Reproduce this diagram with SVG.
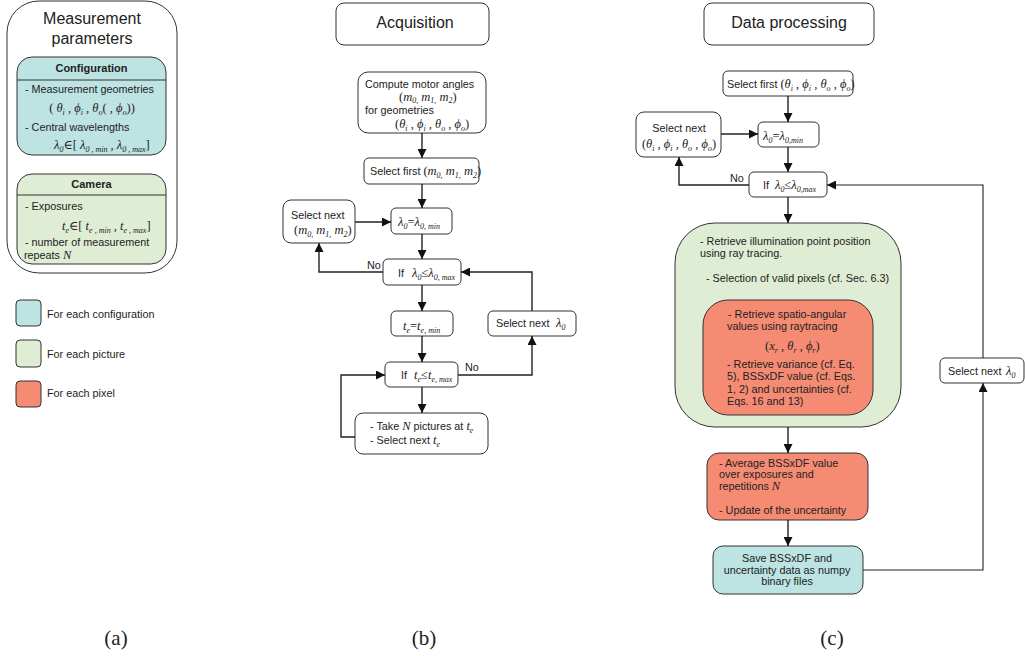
<svg xmlns="http://www.w3.org/2000/svg" width="1025" height="656" viewBox="0 0 1025 656">
<defs>
<style>
.t{font-family:"Liberation Sans",Arial,sans-serif;font-size:10.8px;fill:#222}
.tb{font-family:"Liberation Sans",Arial,sans-serif;font-size:11px;font-weight:bold;fill:#222}
.h{font-family:"Liberation Sans",Arial,sans-serif;font-size:16px;fill:#222}
.m{font-family:"Liberation Serif","DejaVu Serif","Times New Roman",serif;font-style:italic;font-size:12.5px;fill:#222}
.s{font-size:8px}
.n{font-style:normal}
.lab{font-family:"Liberation Serif","Times New Roman",serif;font-size:21px;fill:#222}
.box{fill:#fff;stroke:#333;stroke-width:1}
.cy{fill:#bde3e3;stroke:#333;stroke-width:1}
.gr{fill:#dfedd4;stroke:#333;stroke-width:1}
.rd{fill:#f58b73;stroke:#333;stroke-width:1}
.c{fill:none;stroke:#222;stroke-width:1.4}
.c2{fill:none;stroke:#222;stroke-width:1.1}
</style>
<marker id="ar" viewBox="0 0 10 10" refX="10" refY="5" markerWidth="9" markerHeight="9" markerUnits="userSpaceOnUse" orient="auto">
<path d="M0,0 L10,5 L0,10 z" fill="#111"/>
</marker>
</defs>
<rect width="1025" height="656" fill="#fff"/>

<!-- Panel (a) -->
<g id="params">
<rect x="7" y="1" width="170" height="272" rx="32" class="box"/>
<text x="92" y="24" class="h" text-anchor="middle">Measurement</text>
<text x="92" y="44" class="h" text-anchor="middle">parameters</text>
</g>
<g id="configuration">
<rect x="17" y="57" width="149" height="98" rx="15" class="cy"/>
<line x1="17" y1="80" x2="166" y2="80" stroke="#333" stroke-width="1"/>
<text x="91.5" y="72" class="tb" text-anchor="middle">Configuration</text>
<text x="25" y="93" class="t">- Measurement geometries</text>
<text x="92" y="112" class="m" text-anchor="middle"><tspan class="n">(</tspan> θ<tspan class="s" baseline-shift="-3">i</tspan> , ϕ<tspan class="s" baseline-shift="-3">i</tspan> , θ<tspan class="s" baseline-shift="-3">o</tspan><tspan class="n">(</tspan> , ϕ<tspan class="s" baseline-shift="-3">o</tspan><tspan class="n">))</tspan></text>
<text x="25" y="131" class="t">- Central wavelengths</text>
<text x="54" y="149" class="m">λ<tspan class="s" baseline-shift="-3">0</tspan><tspan class="n">∈[</tspan> λ<tspan class="s" baseline-shift="-3">0 , min</tspan> , λ<tspan class="s" baseline-shift="-3">0 , max</tspan><tspan class="n">]</tspan></text>
</g>
<g id="camera">
<rect x="17" y="174" width="149" height="90" rx="15" class="gr"/>
<line x1="17" y1="195" x2="166" y2="195" stroke="#333" stroke-width="1"/>
<text x="91.5" y="188" class="tb" text-anchor="middle">Camera</text>
<text x="25" y="210" class="t">- Exposures</text>
<text x="62" y="230" class="m">t<tspan class="s" baseline-shift="-3">e</tspan><tspan class="n">∈[</tspan> t<tspan class="s" baseline-shift="-3">e , min</tspan> , t<tspan class="s" baseline-shift="-3">e , max</tspan><tspan class="n">]</tspan></text>
<text x="25" y="246" class="t">- number of measurement</text>
<text x="24" y="259" class="t">repeats <tspan class="m" font-size="13">N</tspan></text>
</g>

<!-- Legend -->
<g id="legend">
<rect x="16" y="300" width="25" height="26" rx="4" class="cy"/>
<text x="47" y="318" class="t">For each configuration</text>
<rect x="16" y="340" width="25" height="27" rx="4" class="gr"/>
<text x="47" y="358" class="t">For each picture</text>
<rect x="16" y="381" width="25" height="26" rx="4" class="rd"/>
<text x="47" y="397" class="t">For each pixel</text>
</g>

<!-- Panel (b) -->
<g id="acq-title">
<rect x="336" y="3" width="153" height="42" rx="8" class="box"/>
<text x="415" y="28" class="h" text-anchor="middle">Acquisition</text>
</g>
<g id="b-compute">
<rect x="358" y="72" width="128" height="61" rx="10" class="box"/>
<text x="365" y="88" class="t">Compute motor angles</text>
<text x="399" y="101" class="m"><tspan class="n">(</tspan>m<tspan class="s" baseline-shift="-2">0,</tspan> m<tspan class="s" baseline-shift="-2">1,</tspan> m<tspan class="s" baseline-shift="-2">2</tspan><tspan class="n">)</tspan></text>
<text x="365" y="114" class="t">for geometries</text>
<text x="395" y="128" class="m"><tspan class="n">(</tspan>θ<tspan class="s" baseline-shift="-3">i</tspan> , ϕ<tspan class="s" baseline-shift="-3">i</tspan> , θ<tspan class="s" baseline-shift="-3">o</tspan> , ϕ<tspan class="s" baseline-shift="-3">o</tspan><tspan class="n">)</tspan></text>
</g>
<g id="b-selfirst">
<rect x="364" y="158" width="115" height="26" rx="5" class="box"/>
<text x="370" y="175" class="t">Select first <tspan class="m"><tspan class="n">(</tspan>m<tspan class="s" baseline-shift="-3">0,</tspan> m<tspan class="s" baseline-shift="-3">1,</tspan> m<tspan class="s" baseline-shift="-3">2</tspan><tspan class="n">)</tspan></tspan></text>
</g>
<g id="b-selnext-m">
<rect x="283" y="200" width="72" height="43" rx="8" class="box"/>
<text x="291" y="219" class="t">Select next</text>
<text x="294" y="234" class="m"><tspan class="n">(</tspan>m<tspan class="s" baseline-shift="-3">0,</tspan> m<tspan class="s" baseline-shift="-3">1,</tspan> m<tspan class="s" baseline-shift="-3">2</tspan><tspan class="n">)</tspan></text>
</g>
<g id="b-lmin">
<rect x="391" y="208" width="61" height="26" rx="5" class="box"/>
<text x="398" y="226" class="m">λ<tspan class="s" baseline-shift="-3">0</tspan><tspan class="n">=</tspan>λ<tspan class="s" baseline-shift="-3">0, min</tspan></text>
</g>
<g id="b-iflmax">
<rect x="383" y="259" width="78" height="26" rx="5" class="box"/>
<text x="398" y="277" class="t">If</text>
<text x="412" y="277" class="m">λ<tspan class="s" baseline-shift="-3">0</tspan><tspan class="n">≤</tspan>λ<tspan class="s" baseline-shift="-3">0, max</tspan></text>
</g>
<g id="b-temin">
<rect x="391" y="311" width="62" height="25" rx="5" class="box"/>
<text x="403" y="330" class="m">t<tspan class="s" baseline-shift="-3">e</tspan><tspan class="n">=</tspan>t<tspan class="s" baseline-shift="-3">e, min</tspan></text>
</g>
<g id="b-selnext-l">
<rect x="488" y="311" width="88" height="25" rx="5" class="box"/>
<text x="496" y="327" class="t">Select next</text>
<text x="556" y="327" class="m">λ<tspan class="s" baseline-shift="-3">0</tspan></text>
</g>
<g id="b-iftmax">
<rect x="385" y="362" width="73" height="25" rx="5" class="box"/>
<text x="401" y="379" class="t">If</text>
<text x="414" y="379" class="m">t<tspan class="s" baseline-shift="-3">e</tspan><tspan class="n">≤</tspan>t<tspan class="s" baseline-shift="-3">e, max</tspan></text>
</g>
<g id="b-take">
<rect x="355" y="413" width="133" height="41" rx="8" class="box"/>
<text x="370" y="430" class="t">- Take <tspan class="m" font-size="13">N</tspan> pictures at <tspan class="m">t<tspan class="s" baseline-shift="-3">e</tspan></tspan></text>
<text x="370" y="444" class="t">- Select next  <tspan class="m">t<tspan class="s" baseline-shift="-3">e</tspan></tspan></text>
</g>

<!-- Panel (c) -->
<g id="dp-title">
<rect x="704" y="3" width="170" height="42" rx="8" class="box"/>
<text x="789" y="28" class="h" text-anchor="middle" font-size="16.5">Data processing</text>
</g>
<g id="c-selfirst">
<rect x="723" y="71" width="130" height="25" rx="5" class="box"/>
<text x="727" y="88" class="t">Select first <tspan class="m"><tspan class="n">(</tspan>θ<tspan class="s" baseline-shift="-3">i</tspan> , ϕ<tspan class="s" baseline-shift="-3">i</tspan> , θ<tspan class="s" baseline-shift="-3">o</tspan> , ϕ<tspan class="s" baseline-shift="-3">o</tspan><tspan class="n">)</tspan></tspan></text>
</g>
<g id="c-selnext">
<rect x="636" y="112" width="85" height="45" rx="8" class="box"/>
<text x="679" y="132" class="t" text-anchor="middle">Select next</text>
<text x="679" y="148" class="m" text-anchor="middle"><tspan class="n">(</tspan>θ<tspan class="s" baseline-shift="-3">i</tspan> , ϕ<tspan class="s" baseline-shift="-3">i</tspan> , θ<tspan class="s" baseline-shift="-3">o</tspan> , ϕ<tspan class="s" baseline-shift="-3">o</tspan><tspan class="n">)</tspan></text>
</g>
<g id="c-lmin">
<rect x="758" y="122" width="61" height="25" rx="5" class="box"/>
<text x="763" y="140" class="m">λ<tspan class="s" baseline-shift="-3">0</tspan><tspan class="n">=</tspan>λ<tspan class="s" baseline-shift="-3">0,min</tspan></text>
</g>
<g id="c-iflmax">
<rect x="749" y="172" width="78" height="25" rx="5" class="box"/>
<text x="763" y="189" class="t">If</text>
<text x="775" y="189" class="m">λ<tspan class="s" baseline-shift="-3">0</tspan><tspan class="n">≤</tspan>λ<tspan class="s" baseline-shift="-3">0,max</tspan></text>
</g>
<g id="c-picture">
<rect x="675" y="223" width="226" height="204" rx="40" class="gr"/>
<text x="700" y="245" class="t">- Retrieve illumination point position</text>
<text x="700" y="257" class="t">using ray tracing.</text>
<text x="706" y="282" class="t">- Selection of valid pixels (cf. Sec. 6.3)</text>
</g>
<g id="c-pixel">
<rect x="703" y="300" width="170" height="115" rx="25" class="rd"/>
<text x="728" y="318" class="t">- Retrieve spatio-angular</text>
<text x="727" y="330" class="t">values using raytracing</text>
<text x="765" y="350" class="m"><tspan class="n">(</tspan>x<tspan class="s" baseline-shift="-3">r</tspan> , θ<tspan class="s" baseline-shift="-3">r</tspan> , ϕ<tspan class="s" baseline-shift="-3">r</tspan><tspan class="n">)</tspan></text>
<text x="727" y="368" class="t">- Retrieve variance (cf. Eq.</text>
<text x="727" y="380" class="t">5), BSSxDF value (cf. Eqs.</text>
<text x="727" y="393" class="t">1, 2) and uncertainties (cf.</text>
<text x="727" y="405" class="t">Eqs. 16 and 13)</text>
</g>
<g id="c-average">
<rect x="707" y="453" width="161" height="67" rx="12" class="rd"/>
<text x="719" y="467" class="t">- Average BSSxDF value</text>
<text x="719" y="478" class="t">over exposures and</text>
<text x="719" y="490" class="t">repetitions  <tspan class="m" font-size="13">N</tspan></text>
<text x="719" y="514" class="t">- Update of the uncertainty</text>
</g>
<g id="c-save">
<rect x="713" y="546" width="150" height="48" rx="10" class="cy"/>
<text x="787" y="562" class="t" text-anchor="middle">Save BSSxDF and</text>
<text x="787" y="574" class="t" text-anchor="middle">uncertainty data as numpy</text>
<text x="787" y="585" class="t" text-anchor="middle">binary files</text>
</g>
<g id="c-selnext-l">
<rect x="940" y="358" width="84" height="25" rx="5" class="box"/>
<text x="948" y="375" class="t">Select next</text>
<text x="1006" y="375" class="m">λ<tspan class="s" baseline-shift="-3">0</tspan></text>
</g>

<!-- Connectors -->
<g id="connectors">
<path class="c" marker-end="url(#ar)" d="M422,133 V158"/>
<path class="c" marker-end="url(#ar)" d="M422,184 V208"/>
<path class="c" marker-end="url(#ar)" d="M355,222 H391"/>
<path class="c" marker-end="url(#ar)" d="M422,234 V259"/>
<path class="c" marker-end="url(#ar)" d="M383,272 H319 V243"/>
<path class="c" marker-end="url(#ar)" d="M422,285 V311"/>
<path class="c" marker-end="url(#ar)" d="M422,336 V362"/>
<path class="c" marker-end="url(#ar)" d="M458,375 H532 V336"/>
<path class="c" marker-end="url(#ar)" d="M532,311 V272 H461"/>
<path class="c" marker-end="url(#ar)" d="M422,387 V413"/>
<path class="c" marker-end="url(#ar)" d="M355,437 H341 V375 H385"/>
<text x="367" y="269" class="t">No</text>
<text x="465" y="371" class="t">No</text>

<path class="c" marker-end="url(#ar)" d="M788,96 V122"/>
<path class="c" marker-end="url(#ar)" d="M721,134 H758"/>
<path class="c" marker-end="url(#ar)" d="M788,147 V172"/>
<path class="c" marker-end="url(#ar)" d="M749,185 H679 V157"/>
<path class="c" marker-end="url(#ar)" d="M788,197 V223"/>
<path class="c" marker-end="url(#ar)" d="M788,427 V453"/>
<path class="c" marker-end="url(#ar)" d="M788,520 V546"/>
<path class="c2" marker-end="url(#ar)" d="M863,570 H983 V383"/>
<path class="c2" marker-end="url(#ar)" d="M983,358 V185 H827"/>
<text x="730" y="182" class="t">No</text>
</g>

<!-- Sub-figure labels -->
<text x="116" y="645" class="lab" text-anchor="middle">(a)</text>
<text x="424" y="645" class="lab" text-anchor="middle">(b)</text>
<text x="832" y="645" class="lab" text-anchor="middle">(c)</text>
</svg>
